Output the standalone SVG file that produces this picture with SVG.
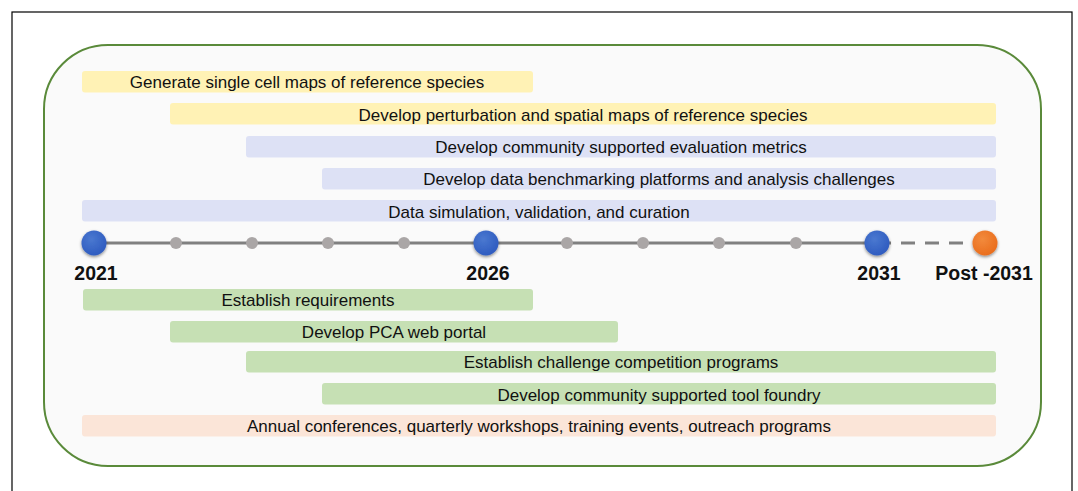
<svg xmlns="http://www.w3.org/2000/svg" width="1078" height="491" viewBox="0 0 1078 491">
<defs>
<filter id="sh" x="-50%" y="-50%" width="200%" height="200%"><feDropShadow dx="0" dy="1.5" stdDeviation="1.5" flood-color="#000" flood-opacity="0.45"/></filter>
<radialGradient id="gb" cx="40%" cy="35%" r="65%"><stop offset="0" stop-color="#4a78d0"/><stop offset="1" stop-color="#2f5cc0"/></radialGradient>
<radialGradient id="go" cx="40%" cy="35%" r="65%"><stop offset="0" stop-color="#f28a3c"/><stop offset="1" stop-color="#ea6e1e"/></radialGradient>
</defs>
<style>
text{font-family:"Liberation Sans",Arial,sans-serif;fill:#111}
.lbl{font-size:17px;text-anchor:middle}
.yr{font-size:19.5px;font-weight:bold;text-anchor:middle}
.y{fill:#fff2b5}.b{fill:#dde1f5}.g{fill:#c6e0b4}.p{fill:#fbe5d8}
.dot{fill:#aaa6a6}
</style>
<rect x="12" y="12" width="1060" height="490" fill="#fff" stroke="#000" stroke-width="1.2"/>
<rect x="44" y="45" width="997" height="421" rx="64" ry="64" fill="#fafafa" stroke="#5a8a3a" stroke-width="2"/>
<g id="bars-top">
<g id="b1"><rect class="y" x="82" y="71" width="451" height="21.5" rx="3"/><text class="lbl" x="307" y="88">Generate single cell maps of reference species</text></g>
<g id="b2"><rect class="y" x="170" y="103" width="826" height="21.5" rx="3"/><text class="lbl" x="583" y="120.5">Develop perturbation and spatial maps of reference species</text></g>
<g id="b3"><rect class="b" x="246" y="136" width="750" height="21.5" rx="3"/><text class="lbl" x="621" y="153">Develop community supported evaluation metrics</text></g>
<g id="b4"><rect class="b" x="322" y="168" width="674" height="21.5" rx="3"/><text class="lbl" x="659" y="185">Develop data benchmarking platforms and analysis challenges</text></g>
<g id="b5"><rect class="b" x="82" y="200" width="914" height="21.5" rx="3"/><text class="lbl" x="539" y="217.5">Data simulation, validation, and curation</text></g>
</g>
<g id="connectors">
<line x1="94" y1="243" x2="877" y2="243" stroke="#808080" stroke-width="3"/>
<line x1="877" y1="243" x2="985" y2="243" stroke="#808080" stroke-width="3" stroke-dasharray="14,10"/>
</g>
<g id="timeline">
<circle class="dot" cx="176" cy="243" r="6"/><circle class="dot" cx="252" cy="243" r="6"/><circle class="dot" cx="328" cy="243" r="6"/><circle class="dot" cx="404" cy="243" r="6"/>
<circle class="dot" cx="567" cy="243" r="6"/><circle class="dot" cx="643" cy="243" r="6"/><circle class="dot" cx="719" cy="243" r="6"/><circle class="dot" cx="796" cy="243" r="6"/>
<g id="y2021"><circle cx="94" cy="243" r="12.5" fill="url(#gb)" filter="url(#sh)"/><text class="yr" x="96" y="280">2021</text></g>
<g id="y2026"><circle cx="486" cy="243" r="12.5" fill="url(#gb)" filter="url(#sh)"/><text class="yr" x="488" y="280">2026</text></g>
<g id="y2031"><circle cx="877" cy="243" r="12.5" fill="url(#gb)" filter="url(#sh)"/><text class="yr" x="879" y="280">2031</text></g>
<g id="ypost"><circle cx="985" cy="243" r="12.5" fill="url(#go)" filter="url(#sh)"/><text class="yr" x="984" y="280">Post -2031</text></g>
</g>
<g id="bars-bottom">
<g id="c1"><rect class="g" x="83" y="289" width="450" height="21.5" rx="3"/><text class="lbl" x="308" y="306">Establish requirements</text></g>
<g id="c2"><rect class="g" x="170" y="321" width="448" height="21.5" rx="3"/><text class="lbl" x="394" y="338">Develop PCA web portal</text></g>
<g id="c3"><rect class="g" x="246" y="351" width="750" height="21.5" rx="3"/><text class="lbl" x="621" y="368">Establish challenge competition programs</text></g>
<g id="c4"><rect class="g" x="322" y="383" width="674" height="21.5" rx="3"/><text class="lbl" x="659" y="400.5">Develop community supported tool foundry</text></g>
<g id="c5"><rect class="p" x="82" y="415" width="914" height="21.5" rx="3"/><text class="lbl" x="539" y="432">Annual conferences, quarterly workshops, training events, outreach programs</text></g>
</g>
</svg>
